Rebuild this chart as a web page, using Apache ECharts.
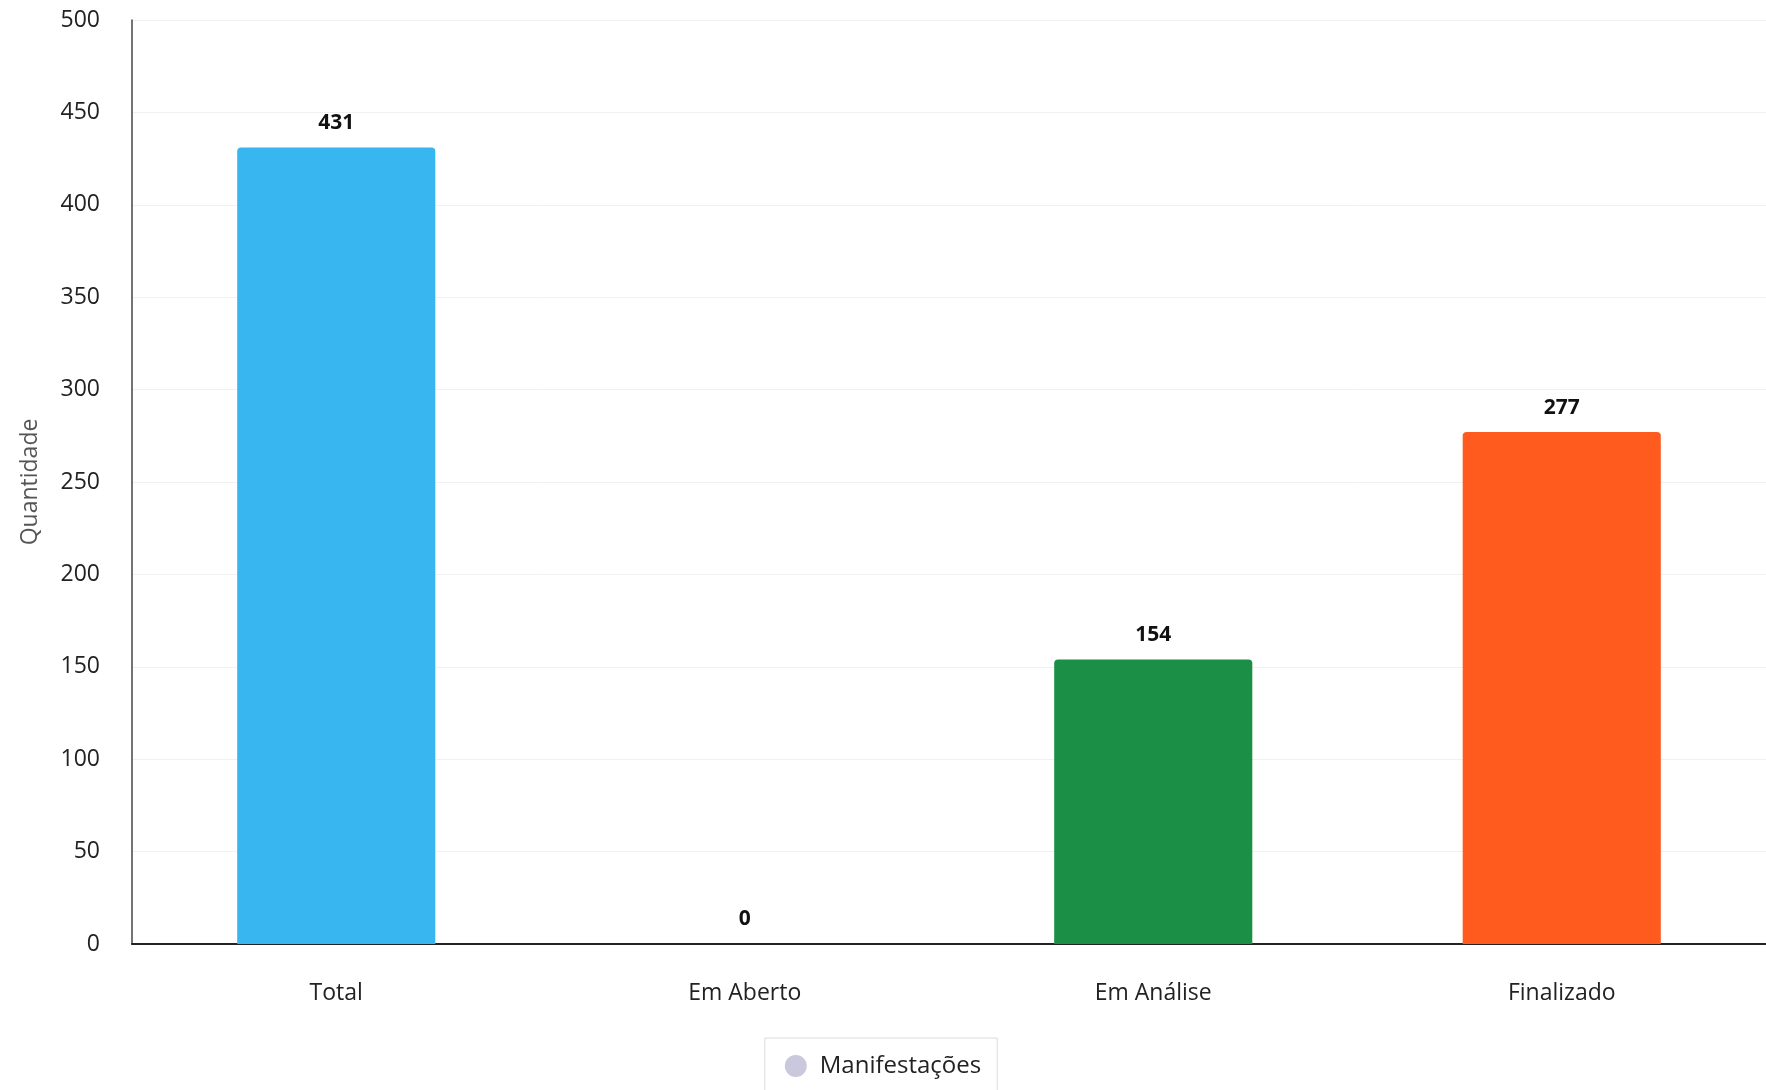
<!DOCTYPE html>
<html>
<head>
<meta charset="utf-8">
<script src="https://cdn.jsdelivr.net/npm/echarts@6/dist/echarts.min.js"></script>
<style>
html,body{margin:0;padding:0;background:#fff;}
#chart{width:1766px;height:1090px;}
</style>
</head>
<body>
<div id="chart"></div>
<script>
const categories = ['Total', 'Em Aberto', 'Em Análise', 'Finalizado'];
const values = [431, 0, 154, 277];
const barColors = ['#38b6ef', '#7cc0e8', '#1a8f45', '#ff5b1f'];
const seriesName = 'Manifestações';
const yTicks = { min: 0, max: 500, interval: 50 };

const FONT = '"Open Sans", "Noto Sans", sans-serif';
const chart = echarts.init(document.getElementById('chart'));
chart.setOption({
  backgroundColor: '#ffffff',
  animation: false,
  grid: { left: 132, right: 0, top: 20, bottom: 146, containLabel: false },
  legend: {
    data: [{ name: seriesName, itemStyle: { color: '#c9c8dc' } }],
    bottom: -10,
    left: 'center',
    icon: 'circle',
    itemWidth: 22,
    itemHeight: 22,
    itemGap: 10,
    padding: [16, 16, 22, 20],
    borderColor: '#dcdcdc',
    borderWidth: 1,
    textStyle: { fontFamily: FONT, fontSize: 24, color: '#222', padding: [0, 0, 0, 8] }
  },
  xAxis: {
    type: 'category',
    data: categories,
    axisLine: { lineStyle: { color: '#222', width: 2 } },
    axisTick: { show: false },
    axisLabel: { fontFamily: FONT, fontSize: 23, color: '#222', margin: 38 }
  },
  yAxis: {
    type: 'value',
    min: yTicks.min,
    max: yTicks.max,
    interval: yTicks.interval,
    name: 'Quantidade',
    nameLocation: 'middle',
    nameGap: 90,
    nameTextStyle: { fontFamily: FONT, fontSize: 23, color: '#555' },
    axisLine: { show: true, lineStyle: { color: '#444', width: 1.5 } },
    axisTick: { show: false },
    axisLabel: { fontFamily: FONT, fontSize: 23, color: '#222', margin: 32 },
    splitLine: { lineStyle: { color: '#f1f1f1', width: 1 } }
  },
  series: [{
    name: seriesName,
    type: 'bar',
    barWidth: '48.5%',
    data: values.map((v, i) => ({ value: v, itemStyle: { color: barColors[i] } })),
    itemStyle: { borderRadius: [4, 4, 0, 0], color: '#c9c8dc' },
    label: {
      show: true,
      position: 'top',
      distance: 14,
      fontFamily: FONT,
      fontWeight: 'bold',
      fontSize: 21,
      color: '#111'
    }
  }]
});
</script>
</body>
</html>
